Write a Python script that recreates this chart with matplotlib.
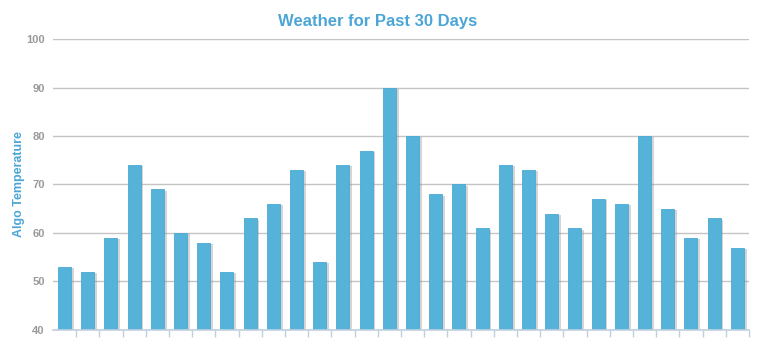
import matplotlib
matplotlib.use('Agg')
import matplotlib.pyplot as plt
import matplotlib.patheffects as pe
import numpy as np

# daily temperatures, past 30 days
days = list(range(1, 31))
temps = [53, 52, 59, 74, 69, 60, 58, 52, 63, 66, 73, 54, 74, 77, 90,
         80, 68, 70, 61, 74, 73, 64, 61, 67, 66, 80, 65, 59, 63, 57]
yticks = [40, 50, 60, 70, 80, 90, 100]

plt.rcParams['font.family'] = ['Liberation Sans', 'DejaVu Sans']

fig = plt.figure(figsize=(7.7, 3.53), dpi=100)
ax = fig.add_axes([0.0688, 0.0652, 0.9039, 0.8243])

x = np.arange(len(days))
bars = ax.bar(x, temps, width=0.56, bottom=0, color='#55b2d9',
              edgecolor='#4aa8d2', linewidth=0.6, zorder=3)
# soft drop shadow like the original
for b in bars:
    b.set_path_effects([pe.SimplePatchShadow(offset=(2, -1), shadow_rgbFace='#888888', alpha=0.35),
                        pe.Normal()])

ax.set_xlim(-0.5, len(days) - 0.5)
ax.set_ylim(40, 100)
ax.set_yticks(yticks)
ax.set_yticklabels([str(v) for v in yticks], color='#9a9a9a', fontsize=8, fontweight='bold')
ax.grid(axis='y', color='#c4c4c4', linewidth=1, zorder=0)

# tick marks on category boundaries
ax.set_xticks(np.append(x[1:] - 0.5, len(days) - 0.5))
ax.set_xticklabels([])
ax.tick_params(axis='x', length=5, width=1, color='#c0d0e0', direction='out')
ax.tick_params(axis='y', length=0, pad=6)

for s in ['top', 'right', 'left']:
    ax.spines[s].set_visible(False)
ax.spines['bottom'].set_color('#c0d0e0')
ax.spines['bottom'].set_linewidth(1.2)
ax.spines['bottom'].set_zorder(4)

ax.set_ylabel('Algo Temperature', color='#4ba6d6', fontsize=9, fontweight='bold', labelpad=1)
fig.text(0.491, 0.94, 'Weather for Past 30 Days', ha='center', va='center',
         color='#4ba6d6', fontsize=12, fontweight='bold')

fig.savefig('out.png', dpi=100)
